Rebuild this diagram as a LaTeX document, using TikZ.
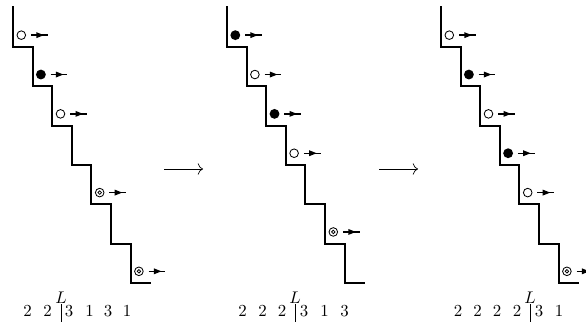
\documentclass[tikz,border=0pt]{standalone}
\usetikzlibrary{arrows.meta}
\begin{document}
\begin{tikzpicture}[x=0.65pt,y=-0.65pt,
  stair/.style={line width=1.3pt,line cap=rect,line join=miter},
  openball/.style={circle,draw,line width=0.55pt,inner sep=0pt,minimum size=5.6pt},
  fullball/.style={circle,fill,inner sep=0pt,minimum size=6.4pt},
  dblball/.style={circle,draw,line width=0.55pt,inner sep=0pt,minimum size=5.6pt},
  motion/.style={line width=0.9pt},
  bigarrow/.style={line width=0.45pt,-{To[length=3.4pt,width=7.5pt]}},
  digit/.style={inner sep=0pt,anchor=center,font=\fontsize{11}{13}\selectfont}]
\useasboundingbox (0,0) rectangle (586,324);
% staircases
\foreach \X in {13,227,441}{
  \draw[stair] (\X,7.5) \foreach \k in {1,...,7}{ -- ++(0,39.36) -- ++(19.6,0) };
}
% balls
\foreach \X/\k/\t in {13/1/openball,13/2/fullball,13/3/openball,13/5/dblball,13/7/dblball,
                      227/1/fullball,227/2/openball,227/3/fullball,227/4/openball,227/6/dblball,
                      441/1/openball,441/2/fullball,441/3/openball,441/4/fullball,441/5/openball,441/7/dblball}{
  \node[\t] (b\X-\k) at ({\X+(\k-1)*19.6+8.3},{7.5+\k*39.36-11.7}) {};
  \draw[motion] (b\X-\k.center) ++(9.7,0) coordinate (s\X-\k) -- ++(16.7,0) coordinate (e\X-\k);
  \fill (b\X-\k.center) ++(15,-3) -- ++(7.5,3) -- ++(-7.5,3) -- cycle;
}
\foreach \n in {13-5,13-7,227-6,441-7}{
  \draw[line width=0.5pt] (b\n.center) circle[radius=1.15pt];
}
% transition arrows
\coordinate (a1s) at (164,169); \coordinate (a1e) at (203,169);
\coordinate (a2s) at (379,169); \coordinate (a2e) at (418,169);
\draw[bigarrow] (a1s) -- (a1e);
\draw[bigarrow] (a2s) -- (a2e);
% sequences
\foreach \x/\d [count=\i] in {27.5/2,47.5/2,69/3,89.5/1,108/3,127/1}{
  \node[digit] (da\i) at (\x,311.5) {$\d$};
}
\node[digit] (La) at (61,297.5) {$L$};
\draw[line width=0.45pt] (61,304) coordinate (ta) -- (61,322) coordinate (ua);
\foreach \x/\d [count=\i] in {242.5/2,262.5/2,282/2,304/3,324.5/1,344.5/3}{
  \node[digit] (db\i) at (\x,311.5) {$\d$};
}
\node[digit] (Lb) at (295,297.5) {$L$};
\draw[line width=0.45pt] (295,304) coordinate (tb) -- (295,322) coordinate (ub);
\foreach \x/\d [count=\i] in {458/2,477.5/2,497/2,517/2,539/3,559/1}{
  \node[digit] (dc\i) at (\x,311.5) {$\d$};
}
\node[digit] (Lc) at (530,297.5) {$L$};
\draw[line width=0.45pt] (530,304) coordinate (tc) -- (530,322) coordinate (uc);
\end{tikzpicture}
\end{document}
